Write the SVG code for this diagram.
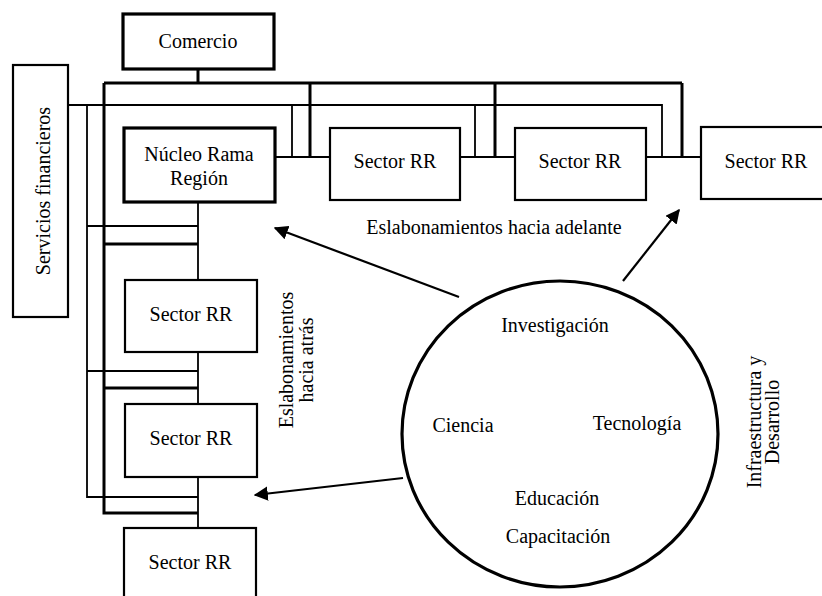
<svg xmlns="http://www.w3.org/2000/svg" width="822" height="596" viewBox="0 0 822 596">
<defs>
<style>
.box{fill:#fff;stroke:#000;stroke-width:2.2}
.bold{fill:#fff;stroke:#000;stroke-width:3.2}
.thin{fill:none;stroke:#000;stroke-width:1.8}
.thick{fill:none;stroke:#000;stroke-width:3}
.arr{fill:none;stroke:#000;stroke-width:2.2;marker-end:url(#ah)}
text{font-family:"Liberation Serif","Times New Roman",serif;fill:#000;font-size:20px;text-anchor:middle}
</style>
<marker id="ah" viewBox="0 0 10 10" refX="9" refY="5" markerWidth="6.5" markerHeight="6.5" orient="auto" markerUnits="strokeWidth">
<path d="M0,0 L10,5 L0,10 z" fill="#000"/>
</marker>
</defs>
<rect width="822" height="596" fill="#fff"/>
<g id="connectors">
<path class="thick" d="M198,69 V83 M104,83 H682 M104,83 V513 H198 M104,244 H198 M104,388 H198 M310,83 V157 M495,83 V157 M682,83 V157"/>
<path class="thin" d="M68,105 H662 V157 M87,105 V497 H198 M87,226 H198 M87,371 H198 M292,105 V157 M475,105 V157"/>
<path class="thin" d="M275,157 H330 M460,157 H515 M646,157 H701 M198,202 V280 M198,352 V404 M198,477 V528"/>
<path class="arr" d="M459,297 L275,228"/>
<path class="arr" d="M623,281 L679,210"/>
<path class="arr" d="M403,478 L255,495"/>
</g>
<g id="comercio">
<rect class="bold" x="123" y="14" width="151" height="55"/>
<text x="198" y="48" font-size="18.5">Comercio</text>
</g>
<g id="servicios">
<rect class="box" x="13" y="65" width="55" height="252"/>
<text transform="translate(50,191) rotate(-90)" font-size="18.5">Servicios financieros</text>
</g>
<g id="nucleo">
<rect class="bold" x="124" y="128" width="151" height="74"/>
<text x="199" y="161">Núcleo Rama</text>
<text x="199" y="185">Región</text>
</g>
<g id="sector1">
<rect class="box" x="330" y="128" width="130" height="72"/>
<text x="395" y="168">Sector RR</text>
</g>
<g id="sector2">
<rect class="box" x="515" y="128" width="131" height="72"/>
<text x="580" y="168">Sector RR</text>
</g>
<g id="sector3">
<rect class="box" x="701" y="127" width="125" height="72"/>
<text x="766" y="168">Sector RR</text>
</g>
<g id="sector4">
<rect class="box" x="125" y="280" width="132" height="72"/>
<text x="191" y="321">Sector RR</text>
</g>
<g id="sector5">
<rect class="box" x="125" y="404" width="132" height="73"/>
<text x="191" y="445">Sector RR</text>
</g>
<g id="sector6">
<rect class="box" x="124" y="528" width="132" height="72"/>
<text x="190" y="569">Sector RR</text>
</g>
<g id="labels">
<text x="494" y="234">Eslabonamientos hacia adelante</text>
<text transform="translate(293,360) rotate(-90)">Eslabonamientos</text>
<text transform="translate(313,360) rotate(-90)">hacia atrás</text>
<text transform="translate(761,422) rotate(-90)" font-size="18.5">Infraestructura y</text>
<text transform="translate(779,422) rotate(-90)" font-size="18.5">Desarrollo</text>
</g>
<g id="circulo">
<ellipse cx="560" cy="434" rx="158" ry="153" fill="none" stroke="#000" stroke-width="3.2"/>
<text x="555" y="332">Investigación</text>
<text x="463" y="432">Ciencia</text>
<text x="637" y="430">Tecnología</text>
<text x="557" y="505">Educación</text>
<text x="558" y="543">Capacitación</text>
</g>
</svg>
